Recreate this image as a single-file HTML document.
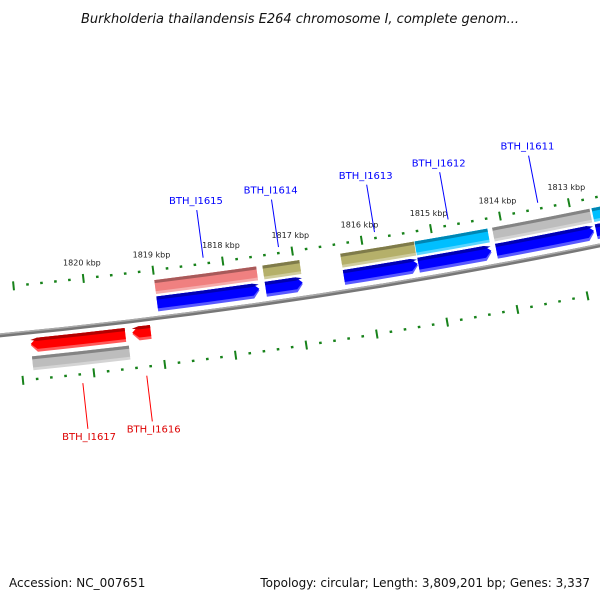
<!DOCTYPE html>
<html><head><meta charset="utf-8"><style>
html,body{margin:0;padding:0;background:#fff}
svg{display:block;font-family:"DejaVu Sans","Liberation Sans",sans-serif}
</style></head><body>
<svg id="map" width="600" height="600" viewBox="0 0 600 600" xmlns="http://www.w3.org/2000/svg">
<rect width="600" height="600" fill="#fff"/>
<text x="300" y="23" text-anchor="middle" font-size="13" font-style="italic" fill="#111">Burkholderia thailandensis E264 chromosome I, complete genom...</text>
<g id="layer"></g>
<text x="9" y="587" font-size="12" fill="#111">Accession: NC_007651</text>
<text x="590" y="587" text-anchor="end" font-size="12" fill="#111">Topology: circular; Length: 3,809,201 bp; Genes: 3,337</text>
</svg>
<script>
// ---- data ----
const tickStart = 1812;
const tickEnd = 1821;
const majorTickLabels = [1820, 1819, 1818, 1817, 1816, 1815, 1814, 1813];
// forward genes (kbp start > end, drawn left to right)
const fwdNames = ["BTH_I1615", "BTH_I1614", "BTH_I1613", "BTH_I1612", "BTH_I1611", ""];
const fwdStart = [1819.0, 1817.45, 1816.33, 1815.26, 1814.14, 1812.70];
const fwdEnd = [1817.54, 1816.92, 1815.27, 1814.21, 1812.73, 1812.0];
const fwdCatColor = ["#f08080", "#b5b06a", "#b5b06a", "#00bfff", "#bdbdbd", "#00bfff"];
const revNames = ["BTH_I1617", "BTH_I1616"];
const revStart = [1820.84, 1819.40];
const revEnd = [1819.50, 1819.14];
const revCatStart = [1820.84];
const revCatEnd = [1819.47];

// ---- geometry ----
const cx = -553, cy = -5395, Rb = 5757;
const phi0 = 1.4468, kRad = 0.0123;
function ang(kbp){ return phi0 + (kbp - 1819) * kRad; }
function pt(kbp, off){ const r = Rb - off, a = ang(kbp); return [cx + r*Math.cos(a), cy + r*Math.sin(a)]; }
const NS = "http://www.w3.org/2000/svg";
const layer = document.getElementById("layer");
function mk(tag, attrs){ const e = document.createElementNS(NS, tag); for (const k in attrs) e.setAttribute(k, attrs[k]); layer.appendChild(e); return e; }
function f(p){ return p[0].toFixed(2)+","+p[1].toFixed(2); }
function band(a, b, o1, o2){
  const r1 = Rb-o1, r2 = Rb-o2;
  return "M"+f(pt(a,o1))+" A"+r1+","+r1+" 0 0 0 "+f(pt(b,o1))+" L"+f(pt(b,o2))+" A"+r2+","+r2+" 0 0 1 "+f(pt(a,o2))+"Z";
}
function arrowBand(a, b, o1, o2, dir){
  // dir=1 arrow at b (right), dir=-1 arrow at a (left)
  const ah = 0.09, r1 = Rb-o1, r2 = Rb-o2, om = (o1+o2)/2;
  if (dir > 0){
    const bb = b + ah;
    return "M"+f(pt(a,o1))+" A"+r1+","+r1+" 0 0 0 "+f(pt(bb,o1))+" L"+f(pt(b,om))+" L"+f(pt(bb,o2))+" A"+r2+","+r2+" 0 0 1 "+f(pt(a,o2))+"Z";
  } else {
    const aa = a - ah;
    return "M"+f(pt(aa,o1))+" A"+r1+","+r1+" 0 0 0 "+f(pt(b,o1))+" L"+f(pt(b,o2))+" A"+r2+","+r2+" 0 0 1 "+f(pt(aa,o2))+" L"+f(pt(a,om))+"Z";
  }
}
function shade(hex, amt){
  const n = parseInt(hex.slice(1),16); let r=(n>>16)&255,g=(n>>8)&255,b=n&255;
  const m = c => Math.max(0,Math.min(255,Math.round(amt<0?c*(1+amt):c+(255-c)*amt)));
  return "rgb("+m(r)+","+m(g)+","+m(b)+")";
}
function shadedBand(pathFn, o1, o2, color, name){
  const h = o1 - o2;
  let e = mk("path", {d: pathFn(o1, o2), fill: shade(color, 0.35)});
  
  
  e = mk("path", {d: pathFn(o1, o2 + h*0.2), fill: color});
  
  
  e = mk("path", {d: pathFn(o1, o1 - h*0.22), fill: shade(color, -0.3)});
  
  
}

// backbone
let bb = mk("path", {d: band(1822, 1811, 2, -2), fill: "#777"});


bb = mk("path", {d: band(1822, 1811, 2, 0.5), fill: "#aaa"});



// tick rings
const ringOffs = [48, -47];
ringOffs.forEach((ro, ri) => {
  for (let i = 0; i <= (tickEnd - tickStart) * 5; i++){
    const kb = tickStart + i * 0.2;
    const major = Math.abs(kb - Math.round(kb)) < 1e-6;
    const L = major ? 4.5 : 1.2;
    const p1 = pt(kb, ro + L), p2 = pt(kb, ro - L);
    const t = mk("line", {x1: p1[0], y1: p1[1], x2: p2[0], y2: p2[1], stroke: "#17821a", "stroke-width": major ? 2 : 2.6});
    
    
  }
});
majorTickLabels.forEach(kb => {
  const p = pt(kb, 48 + 13);
  const t = mk("text", {x: p[0], y: p[1], "text-anchor": "middle", "font-size": 8, fill: "#222"});
  t.textContent = kb + " kbp";
  
  
});

// forward genes
fwdStart.forEach((s, i) => {
  const e = fwdEnd[i];
  shadedBand((o1,o2) => band(s, e, o1, o2), 38, 24, fwdCatColor[i], 'category-feature');
  shadedBand((o1,o2) => arrowBand(s, e, o1, o2, 1), 21.5, 6.5, "#0000ff", 'forward-gene');
  if (fwdNames[i]){
    const mid = (s + e) / 2;
    const a = pt(mid, 54), b = pt(mid, 102), c = pt(mid, 108);
    let l = mk("line", {x1: a[0], y1: a[1], x2: b[0], y2: b[1], stroke: "#0000ff", "stroke-width": 1});
    
    
    l = mk("text", {x: c[0], y: c[1], "text-anchor": "middle", "font-size": 10, fill: "#0000ff"});
    l.textContent = fwdNames[i];
    
    
  }
});
// reverse genes
revStart.forEach((s, i) => {
  const e = revEnd[i];
  shadedBand((o1,o2) => arrowBand(s, e, o1, o2, -1), -6, -20, "#ff0000", 'reverse-gene');
  const mid = (s + e) / 2;
  const a = pt(mid, -56), b = pt(mid, -102), c = pt(mid, -113);
  let l = mk("line", {x1: a[0], y1: a[1], x2: b[0], y2: b[1], stroke: "#ff0000", "stroke-width": 1});
  
  
  l = mk("text", {x: c[0], y: c[1], "text-anchor": "middle", "font-size": 10, fill: "#dd0000"});
  l.textContent = revNames[i];
  
  
});
revCatStart.forEach((s, i) => {
  shadedBand((o1,o2) => band(s, revCatEnd[i], o1, o2), -24, -38, "#bdbdbd", 'reverse-category-feature');
});
</script>
</body></html>
